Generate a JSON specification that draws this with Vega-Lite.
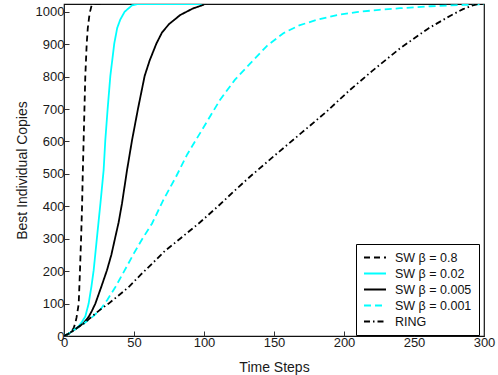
{
  "$schema": "https://vega.github.io/schema/vega-lite/v6.json",
  "width": 420,
  "height": 332,
  "autosize": {"type": "none"},
  "padding": {"left": 64, "top": 4, "right": 14, "bottom": 39},
  "background": "white",
  "config": {
    "font": "Liberation Sans",
    "view": {"stroke": "#111", "strokeWidth": 1.2},
    "axis": {
      "grid": false,
      "domain": false,
      "tickColor": "#333",
      "tickSize": -5,
      "tickWidth": 1,
      "labelFont": "Liberation Sans",
      "labelFontSize": 13,
      "labelColor": "#1a1a1a",
      "titleFont": "Liberation Sans",
      "titleFontSize": 14,
      "titleFontWeight": "normal",
      "titleColor": "#1a1a1a"
    }
  },
  "data": {
    "values": [
      {"s": "SW β = 0.8", "t": 0, "v": 1}, {"s": "SW β = 0.8", "t": 2, "v": 4}, {"s": "SW β = 0.8", "t": 4, "v": 9},
      {"s": "SW β = 0.8", "t": 6, "v": 18}, {"s": "SW β = 0.8", "t": 7, "v": 26}, {"s": "SW β = 0.8", "t": 8, "v": 38},
      {"s": "SW β = 0.8", "t": 9, "v": 58}, {"s": "SW β = 0.8", "t": 10, "v": 85}, {"s": "SW β = 0.8", "t": 10.5, "v": 100},
      {"s": "SW β = 0.8", "t": 11.4, "v": 200}, {"s": "SW β = 0.8", "t": 12.2, "v": 300}, {"s": "SW β = 0.8", "t": 12.9, "v": 400},
      {"s": "SW β = 0.8", "t": 13.4, "v": 500}, {"s": "SW β = 0.8", "t": 14, "v": 600}, {"s": "SW β = 0.8", "t": 14.6, "v": 700},
      {"s": "SW β = 0.8", "t": 15.2, "v": 800}, {"s": "SW β = 0.8", "t": 16.2, "v": 900}, {"s": "SW β = 0.8", "t": 17, "v": 950},
      {"s": "SW β = 0.8", "t": 18, "v": 985}, {"s": "SW β = 0.8", "t": 18.6, "v": 1000}, {"s": "SW β = 0.8", "t": 19.5, "v": 1016},
      {"s": "SW β = 0.8", "t": 20.5, "v": 1024}, {"s": "SW β = 0.8", "t": 27, "v": 1024},

      {"s": "SW β = 0.02", "t": 0, "v": 1}, {"s": "SW β = 0.02", "t": 2, "v": 4}, {"s": "SW β = 0.02", "t": 4, "v": 9},
      {"s": "SW β = 0.02", "t": 6, "v": 15}, {"s": "SW β = 0.02", "t": 8, "v": 22}, {"s": "SW β = 0.02", "t": 10.5, "v": 30},
      {"s": "SW β = 0.02", "t": 13, "v": 45}, {"s": "SW β = 0.02", "t": 15.2, "v": 60}, {"s": "SW β = 0.02", "t": 17.6, "v": 100},
      {"s": "SW β = 0.02", "t": 19.5, "v": 150}, {"s": "SW β = 0.02", "t": 21.2, "v": 203}, {"s": "SW β = 0.02", "t": 23.6, "v": 306},
      {"s": "SW β = 0.02", "t": 26, "v": 408}, {"s": "SW β = 0.02", "t": 28.3, "v": 511}, {"s": "SW β = 0.02", "t": 29.5, "v": 604},
      {"s": "SW β = 0.02", "t": 31.2, "v": 702}, {"s": "SW β = 0.02", "t": 33.1, "v": 802}, {"s": "SW β = 0.02", "t": 35.9, "v": 902},
      {"s": "SW β = 0.02", "t": 38, "v": 950}, {"s": "SW β = 0.02", "t": 40.2, "v": 976}, {"s": "SW β = 0.02", "t": 43.3, "v": 1000},
      {"s": "SW β = 0.02", "t": 48.6, "v": 1020}, {"s": "SW β = 0.02", "t": 53, "v": 1024}, {"s": "SW β = 0.02", "t": 100, "v": 1024},

      {"s": "SW β = 0.005", "t": 0, "v": 1}, {"s": "SW β = 0.005", "t": 2, "v": 4}, {"s": "SW β = 0.005", "t": 4, "v": 9},
      {"s": "SW β = 0.005", "t": 6, "v": 15}, {"s": "SW β = 0.005", "t": 8, "v": 21}, {"s": "SW β = 0.005", "t": 10.5, "v": 28},
      {"s": "SW β = 0.005", "t": 14, "v": 40}, {"s": "SW β = 0.005", "t": 17.6, "v": 59}, {"s": "SW β = 0.005", "t": 20, "v": 78},
      {"s": "SW β = 0.005", "t": 22.4, "v": 100}, {"s": "SW β = 0.005", "t": 26.5, "v": 150}, {"s": "SW β = 0.005", "t": 30.7, "v": 203},
      {"s": "SW β = 0.005", "t": 33.8, "v": 250}, {"s": "SW β = 0.005", "t": 36.7, "v": 306}, {"s": "SW β = 0.005", "t": 39, "v": 350},
      {"s": "SW β = 0.005", "t": 41.4, "v": 408}, {"s": "SW β = 0.005", "t": 45, "v": 511}, {"s": "SW β = 0.005", "t": 48.6, "v": 604},
      {"s": "SW β = 0.005", "t": 52.9, "v": 702}, {"s": "SW β = 0.005", "t": 57.6, "v": 802}, {"s": "SW β = 0.005", "t": 61.2, "v": 850},
      {"s": "SW β = 0.005", "t": 66, "v": 902}, {"s": "SW β = 0.005", "t": 70, "v": 936}, {"s": "SW β = 0.005", "t": 75, "v": 962},
      {"s": "SW β = 0.005", "t": 83, "v": 990}, {"s": "SW β = 0.005", "t": 92, "v": 1010}, {"s": "SW β = 0.005", "t": 100, "v": 1022},

      {"s": "SW β = 0.001", "t": 0, "v": 1}, {"s": "SW β = 0.001", "t": 2, "v": 4}, {"s": "SW β = 0.001", "t": 4, "v": 9},
      {"s": "SW β = 0.001", "t": 6, "v": 15}, {"s": "SW β = 0.001", "t": 8, "v": 21}, {"s": "SW β = 0.001", "t": 10.5, "v": 28},
      {"s": "SW β = 0.001", "t": 14, "v": 38}, {"s": "SW β = 0.001", "t": 17.6, "v": 50}, {"s": "SW β = 0.001", "t": 21.2, "v": 62},
      {"s": "SW β = 0.001", "t": 26, "v": 82}, {"s": "SW β = 0.001", "t": 31, "v": 112}, {"s": "SW β = 0.001", "t": 36.7, "v": 151},
      {"s": "SW β = 0.001", "t": 43, "v": 200}, {"s": "SW β = 0.001", "t": 49.8, "v": 254}, {"s": "SW β = 0.001", "t": 56, "v": 300},
      {"s": "SW β = 0.001", "t": 62.9, "v": 347}, {"s": "SW β = 0.001", "t": 71, "v": 420}, {"s": "SW β = 0.001", "t": 80, "v": 491},
      {"s": "SW β = 0.001", "t": 88, "v": 560}, {"s": "SW β = 0.001", "t": 97.1, "v": 625}, {"s": "SW β = 0.001", "t": 111.4, "v": 728},
      {"s": "SW β = 0.001", "t": 122, "v": 790}, {"s": "SW β = 0.001", "t": 132.9, "v": 840}, {"s": "SW β = 0.001", "t": 145, "v": 895},
      {"s": "SW β = 0.001", "t": 156.7, "v": 934}, {"s": "SW β = 0.001", "t": 168, "v": 958}, {"s": "SW β = 0.001", "t": 180.5, "v": 975},
      {"s": "SW β = 0.001", "t": 195, "v": 990}, {"s": "SW β = 0.001", "t": 209, "v": 999}, {"s": "SW β = 0.001", "t": 225, "v": 1006},
      {"s": "SW β = 0.001", "t": 240, "v": 1011}, {"s": "SW β = 0.001", "t": 262, "v": 1017}, {"s": "SW β = 0.001", "t": 285, "v": 1021},
      {"s": "SW β = 0.001", "t": 300, "v": 1023},

      {"s": "RING", "t": 0, "v": 1}, {"s": "RING", "t": 2, "v": 4}, {"s": "RING", "t": 4, "v": 9},
      {"s": "RING", "t": 6, "v": 15}, {"s": "RING", "t": 8, "v": 21}, {"s": "RING", "t": 10, "v": 27},
      {"s": "RING", "t": 14, "v": 38}, {"s": "RING", "t": 18, "v": 53}, {"s": "RING", "t": 22.4, "v": 69},
      {"s": "RING", "t": 27, "v": 85}, {"s": "RING", "t": 31.9, "v": 100}, {"s": "RING", "t": 39, "v": 125},
      {"s": "RING", "t": 46.2, "v": 151}, {"s": "RING", "t": 55, "v": 190}, {"s": "RING", "t": 62.9, "v": 223},
      {"s": "RING", "t": 72, "v": 262}, {"s": "RING", "t": 82.9, "v": 300}, {"s": "RING", "t": 97, "v": 350},
      {"s": "RING", "t": 110, "v": 400}, {"s": "RING", "t": 121, "v": 445}, {"s": "RING", "t": 133, "v": 492},
      {"s": "RING", "t": 150, "v": 555}, {"s": "RING", "t": 170, "v": 628}, {"s": "RING", "t": 187, "v": 690},
      {"s": "RING", "t": 204, "v": 758}, {"s": "RING", "t": 220, "v": 817}, {"s": "RING", "t": 240, "v": 887},
      {"s": "RING", "t": 260, "v": 948}, {"s": "RING", "t": 276, "v": 988}, {"s": "RING", "t": 285, "v": 1008},
      {"s": "RING", "t": 292, "v": 1020}, {"s": "RING", "t": 296, "v": 1024}, {"s": "RING", "t": 300, "v": 1024}
    ]
  },
  "mark": {"type": "line", "strokeWidth": 1.8, "clip": true},
  "encoding": {
    "x": {
      "field": "t", "type": "quantitative",
      "scale": {"domain": [0, 300], "nice": false},
      "axis": {"title": "Time Steps", "values": [0, 50, 100, 150, 200, 250, 300], "format": "d", "labelPadding": 5, "titlePadding": 11, "labelFlush": false}
    },
    "y": {
      "field": "v", "type": "quantitative",
      "scale": {"domain": [0, 1024], "nice": false},
      "axis": {"title": "Best Individual Copies", "values": [0, 100, 200, 300, 400, 500, 600, 700, 800, 900, 1000], "format": "d", "labelPadding": 5, "titlePadding": 6, "labelFlush": false}
    },
    "color": {
      "field": "s", "type": "nominal",
      "scale": {
        "domain": ["SW β = 0.8", "SW β = 0.02", "SW β = 0.005", "SW β = 0.001", "RING"],
        "range": ["#000000", "#00ffff", "#000000", "#00ffff", "#000000"]
      },
      "legend": {
        "title": null, "orient": "none", "legendX": 292, "legendY": 240,
        "symbolType": "M-1,0H3", "symbolSize": 121, "symbolStrokeWidth": 2, "symbolFillColor": "transparent",
        "labelFontSize": 12.5, "labelFont": "Liberation Sans", "labelColor": "#111", "labelLimit": 200,
        "strokeColor": "#000", "fillColor": "#fff", "padding": 7, "rowPadding": 3, "labelOffset": 19
      }
    },
    "strokeDash": {
      "field": "s", "type": "nominal",
      "scale": {
        "domain": ["SW β = 0.8", "SW β = 0.02", "SW β = 0.005", "SW β = 0.001", "RING"],
        "range": [[6, 4], [1, 0], [1, 0], [7, 4], [6, 3, 1.5, 3]]
      },
      "legend": {
        "title": null, "orient": "none", "legendX": 292, "legendY": 240,
        "symbolType": "M-1,0H3", "symbolSize": 121, "symbolStrokeWidth": 2, "symbolFillColor": "transparent",
        "labelFontSize": 12.5, "labelFont": "Liberation Sans", "labelColor": "#111", "labelLimit": 200,
        "strokeColor": "#000", "fillColor": "#fff", "padding": 7, "rowPadding": 3, "labelOffset": 19
      }
    }
  }
}
